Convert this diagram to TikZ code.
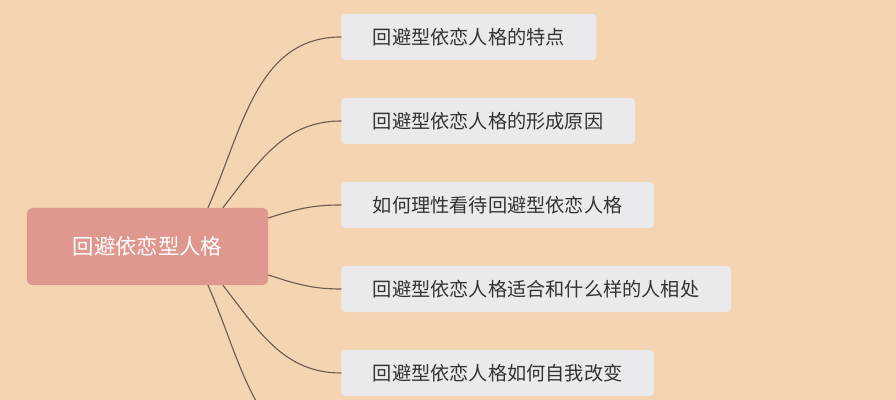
\documentclass[tikz,border=0pt]{standalone}
\usepackage{fontspec}
\setmainfont{Noto Sans CJK SC}
\usetikzlibrary{calc}
\definecolor{nen}{HTML}{F5D4B1}
\definecolor{mauGoc}{HTML}{E0978E}
\definecolor{mauNhanh}{HTML}{EAEAED}
\definecolor{mauDay}{HTML}{6E5C4F}
\definecolor{mauChu}{HTML}{333333}
\tikzset{
	goc/.style={fill=mauGoc, text=white, rounded corners=0.15cm, minimum width=6.03cm, minimum height=1.93cm, font=\fontsize{15.2pt}{18pt}\selectfont},
	nhanh/.style={anchor=west, fill=mauNhanh, text=mauChu, rounded corners=0.1cm, inner xsep=0.79cm, minimum height=1.15cm, font=\fontsize{13.65pt}{16pt}\selectfont},
	noi/.style={draw=mauDay, line width=0.8pt}
}
\begin{document}
\begin{tikzpicture}[x=0.025cm, y=0.025cm, line join=round, line cap=round]
	% Nền
	\fill[nen] (0,0) rectangle (896,400);
	\clip (0,0) rectangle (896,400);
	
	% Chủ đề chính
	\node[goc] (goc) at (147.5,153.5) {回避依恋型人格};
	
	% Các nhánh
	\node[nhanh] (n1) at (341,363) {回避型依恋人格的特点};
	\node[nhanh] (n2) at (341,279) {回避型依恋人格的形成原因};
	\node[nhanh] (n3) at (341,195) {如何理性看待回避型依恋人格};
	\node[nhanh] (n4) at (341,111) {回避型依恋人格适合和什么样的人相处};
	\node[nhanh] (n5) at (341,27) {回避型依恋人格如何自我改变};
	\coordinate (n6) at (341,-57);
	
	% Đường nối
	\draw[noi] ($(goc.north)+(60.5,0)$) to[out=66,in=180] (n1.west);
	\draw[noi] ($(goc.north)+(75.5,0)$) to[out=52,in=180] (n2.west);
	\draw[noi] ($(goc.east)+(0,28.5)$) to[out=18,in=180] (n3.west);
	\draw[noi] ($(goc.east)+(0,-28.5)$) to[out=-18,in=180] (n4.west);
	\draw[noi] ($(goc.south)+(75.5,0)$) to[out=-52,in=180] (n5.west);
	\draw[noi] ($(goc.south)+(60.5,0)$) to[out=-66,in=180] (n6);
\end{tikzpicture}
\end{document}
